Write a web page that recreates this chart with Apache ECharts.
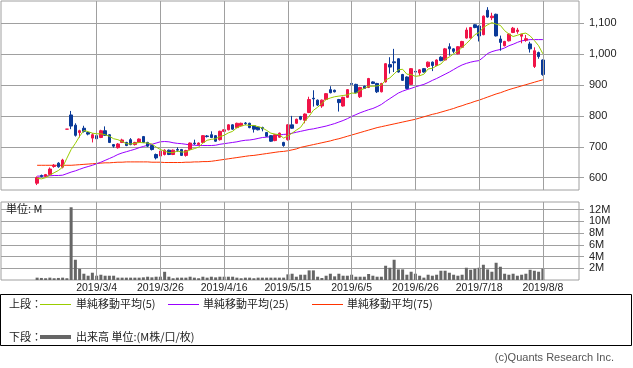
<!DOCTYPE html>
<html><head><meta charset="utf-8">
<script src="https://cdn.jsdelivr.net/npm/echarts@6/dist/echarts.min.js"></script>
<style>html,body{margin:0;padding:0;background:#fff}#c{width:633px;height:368px}</style>
</head><body><div id="c"></div>
<script>
// ---------- data ----------
const firstDate = '2019/2/12';
const holidays = ['2019/3/21','2019/4/29','2019/4/30','2019/5/1','2019/5/2','2019/5/3','2019/5/6','2019/7/15'];
const dateTicks = ['2019/3/4','2019/3/26','2019/4/16','2019/5/15','2019/6/5','2019/6/26','2019/7/18','2019/8/8'];
const priceTicks = [600,700,800,900,1000,1100];
const volTicks = [2,4,6,8,10,12];

const opens = [582,607,604,610,636,647,634,757,803,770,746,760,746,728,736,730,752,739,707,697,
714,714,723,707,714,733,714,704,675,670,675,689,675,691,691,672,691,712,707,714,
735,739,736,723,750,755,771,762,768,777,776,768,764,762,746,736,720,731,714,723,
771,776,798,786,811,857,851,832,853,885,883,853,832,860,905,902,862,896,892,910,
905,878,910,966,975,985,934,926,902,944,939,953,960,974,963,990,981,1024,1017,1001,
1022,1052,1052,1095,1091,1063,1142,1118,1129,1049,1027,1043,1070,1073,1058,1045,1033,960,1005,981];
const highs = [604,610,612,633,644,650,661,757,816,776,755,768,750,744,738,755,766,741,709,712,
726,716,728,716,727,735,716,706,678,688,692,691,691,698,693,690,714,723,714,738,
738,750,738,752,757,773,773,778,778,780,778,770,766,765,748,738,741,746,716,773,
800,791,800,808,862,883,853,853,874,896,885,855,862,887,910,904,894,898,923,912,
907,907,971,990,1017,987,936,928,955,963,951,955,976,976,983,993,1020,1035,1019,1026,
1043,1086,1088,1097,1093,1125,1152,1134,1131,1060,1043,1067,1088,1085,1066,1062,1040,1022,1008,983];
const lows = [576,601,602,607,632,632,630,757,757,733,730,746,737,714,722,728,735,712,697,694,
712,702,705,704,712,712,699,688,659,668,672,673,673,684,670,668,689,706,705,712,
730,728,716,720,748,753,755,760,766,770,760,746,753,750,732,716,718,729,700,720,
758,774,786,776,809,830,832,826,851,873,876,814,830,858,892,873,858,887,890,903,
874,876,908,937,942,940,913,886,900,924,930,940,955,945,961,977,979,995,1003,999,
1020,1050,1050,1084,1041,1061,1118,1110,1057,1011,1025,1041,1068,1066,1035,1040,1005,955,985,930];
const closes = [600,604,610,628,640,635,657,757,767,737,752,750,741,739,726,752,737,714,702,709,
722,704,707,714,725,714,702,691,664,686,689,675,689,689,672,688,712,710,712,736,
733,730,718,750,755,771,757,776,776,775,762,757,755,758,734,718,739,744,704,771,
760,789,789,806,853,855,835,851,872,875,878,843,860,885,902,875,892,889,921,905,
878,905,969,958,972,942,915,889,953,942,949,942,974,963,981,979,1017,1017,1009,1024,
1041,1078,1086,1086,1059,1123,1120,1123,1059,1038,1041,1065,1084,1078,1064,1050,1017,1011,992,934];
const volumes = [0.4,0.35,0.3,0.4,0.3,0.35,0.4,0.3,12.4,3.45,1.9,1.07,0.73,1.24,0.73,0.9,0.73,0.73,0.73,0.4,
0.4,0.4,0.4,0.4,0.4,0.45,0.56,0.45,0.56,0.56,1.4,0.56,0.3,0.4,0.4,0.4,0.56,0.4,0.3,0.56,
0.4,0.56,0.45,0.56,0.56,0.56,0.56,0.4,0.3,0.4,0.4,0.3,0.4,0.4,0.4,0.4,0.4,0.4,0.4,
0.96,1.07,0.56,0.9,0.9,1.64,1.64,0.56,0.34,0.73,1.07,0.62,1.07,0.73,0.73,0.9,0.56,0.56,0.56,1.02,0.73,
0.56,0.56,2.43,2.09,3.45,1.81,1.81,0.9,1.41,1.07,0.73,0.4,0.9,0.73,0.9,1.58,1.58,1.24,0.9,0.73,
0.9,2.09,1.75,1.92,2.09,2.6,1.81,1.41,2.94,2.26,1.07,0.9,1.07,0.73,0.9,1.07,1.75,1.58,1.41,1.92];
const ma5 = [598,596,600,608,616,623,634,663,691,711,734,753,749,744,742,742,739,734,726,723,
717,710,709,711,714,713,712,709,699,691,686,681,681,686,683,683,690,694,699,712,
721,724,726,733,737,745,750,762,767,771,769,769,765,761,753,744,741,739,728,735,
744,754,763,783,799,818,828,840,853,858,862,864,866,868,874,873,883,889,896,896,
897,900,916,923,936,949,951,935,934,928,930,935,952,954,962,968,983,991,1001,1009,
1022,1034,1048,1063,1070,1086,1095,1102,1097,1093,1076,1065,1057,1061,1066,1068,1059,1044,1027,1001];
const ma25 = [605,605,606,606,607,607,608,
613,618,622,627,632,636,640,645,650,656,662,668,675,680,
684,688,692,697,701,705,708,712,716,717,
716,713,711,710,708,706,705,704,704,704,704,705,
708,710,712,714,716,719,721,722,724,727,730,
731,733,735,738,740,741,744,747,750,753,
756,758,761,764,767,771,775,780,785,791,798,
804,810,815,820,824,830,837,847,856,865,874,
880,885,889,894,898,902,908,915,921,928,935,
942,950,958,965,970,974,977,979,990,1002,1008,
1012,1015,1020,1027,1032,1038,1043,1045,1047,1047,1047,1047];
const ma75 = [640,640,640,640,640,640,640,640,640,
641,642,643,644,645,646,647,648,648,649,650,650,
651,651,651,651,651,651,650,650,650,649,649,649,649,649,
650,650,651,651,652,652,
653,655,657,659,661,663,665,667,669,671,672,674,676,678,680,682,684,685,687,
690,693,698,701,704,707,710,713,716,719,723,726,730,734,738,
742,746,750,754,758,762,765,768,771,774,777,780,783,786,789,
793,797,801,805,808,812,816,820,824,829,833,838,842,847,851,
856,861,866,871,875,880,885,889,893,897,901,905,909,913,917];

// ---------- build ----------
function fmt(d){return d.getFullYear()+'/'+(d.getMonth()+1)+'/'+d.getDate();}
function tradingDays(start, n){
  const p = start.split('/').map(Number);
  const d = new Date(p[0], p[1]-1, p[2]);
  const out = [];
  while(out.length < n){
    const s = fmt(d), w = d.getDay();
    if(w !== 0 && w !== 6 && holidays.indexOf(s) < 0) out.push(s);
    d.setDate(d.getDate()+1);
  }
  return out;
}
const N = closes.length;
const dates = tradingDays(firstDate, N);
const PADL = 8, PADR = 8;
const cats = [];
for(let i=0;i<PADL;i++) cats.push('pre'+i);
dates.forEach(d=>cats.push(d));
for(let i=0;i<PADR;i++) cats.push('post'+i);
const padL = Array(PADL).fill('-'), padR = Array(PADR).fill('-');
const wrap = arr => padL.concat(arr, padR);
const candleData = wrap(dates.map((d,i)=>[opens[i],closes[i],lows[i],highs[i]]));

const RED='#f01448', BLUE='#0a3a98', GRID='#a0a0a0';
const JP = "'Liberation Sans','Noto Sans CJK JP',sans-serif";
const vGrid = dateTicks.map(d=>({xAxis:d}));
const gridMark = {silent:true, symbol:['none','none'], label:{show:false},
  lineStyle:{color:GRID, type:'solid', width:1}, data:vGrid, animation:false};

const chart = echarts.init(document.getElementById('c'), null, {renderer:'canvas'});
chart.setOption({
  animation:false,
  backgroundColor:'#fff',
  grid:[
    {left:1, top:1, right:54, height:189, show:true, borderColor:GRID, borderWidth:1},
    {left:1, top:202, right:54, height:78, show:true, borderColor:GRID, borderWidth:1}
  ],
  xAxis:[
    {type:'category', gridIndex:0, data:cats, boundaryGap:true,
     axisLine:{show:false}, axisTick:{show:false}, axisLabel:{show:false}, splitLine:{show:false}},
    {type:'category', gridIndex:1, data:cats, boundaryGap:true,
     axisLine:{show:false}, axisTick:{show:false}, splitLine:{show:false},
     axisLabel:{show:true, interval:(idx,val)=>dateTicks.indexOf(val)>=0, fontSize:10.5,
       color:'#222', margin:3, fontFamily:JP, hideOverlap:false}}
  ],
  yAxis:[
    {type:'value', gridIndex:0, position:'right', min:560, max:1172, scale:true,
     axisLine:{show:false},
     axisTick:{show:true, customValues:priceTicks, length:5, lineStyle:{color:GRID}},
     axisLabel:{customValues:priceTicks, formatter:v=>v.toLocaleString('en-US'), fontSize:11,
       color:'#222', margin:10, fontFamily:JP},
     splitLine:{show:true, lineStyle:{color:GRID, width:1}}},
    {type:'value', gridIndex:1, position:'right', min:0, max:13.3,
     axisLine:{show:false},
     axisTick:{show:true, customValues:volTicks, length:5, lineStyle:{color:GRID}},
     axisLabel:{customValues:volTicks, formatter:v=>v+'M', fontSize:11, color:'#222', margin:10, fontFamily:JP},
     splitLine:{show:true, lineStyle:{color:GRID, width:1}}}
  ],
  series:[
    {type:'line', xAxisIndex:0, yAxisIndex:0, data:[], z:1, markLine:gridMark},
    {type:'line', xAxisIndex:1, yAxisIndex:1, data:[], z:1, markLine:gridMark},
    {type:'line', xAxisIndex:0, yAxisIndex:0, data:wrap(ma75), showSymbol:false, z:3,
     lineStyle:{color:'#ff3300', width:1}, itemStyle:{color:'#ff3300'}},
    {type:'line', xAxisIndex:0, yAxisIndex:0, data:wrap(ma25), showSymbol:false, z:3,
     lineStyle:{color:'#9900ff', width:1}, itemStyle:{color:'#9900ff'}},
    {type:'candlestick', xAxisIndex:0, yAxisIndex:0, data:candleData, barWidth:3, z:4,
     itemStyle:{color:RED, color0:BLUE, borderColor:RED, borderColor0:BLUE, borderWidth:1}},
    {type:'line', xAxisIndex:0, yAxisIndex:0, data:wrap(ma5), showSymbol:false, z:5,
     lineStyle:{color:'#99cc00', width:1}, itemStyle:{color:'#99cc00'}},
    {type:'bar', xAxisIndex:1, yAxisIndex:1, data:wrap(volumes), barWidth:3, z:4,
     itemStyle:{color:'#666666'}}
  ],
  graphic:[
    {type:'text', left:6, top:203, z:10, style:{text:'単位: M', font:"11px 'Noto Sans CJK JP'", fill:'#222'}},
    {type:'rect', z:10, shape:{x:0.5, y:294.5, width:631, height:51}, style:{fill:'none', stroke:'#000', lineWidth:1}},
    {type:'text', z:10, x:9, y:304, style:{text:'上段：', font:"11px 'Noto Sans CJK JP'", fill:'#222', textVerticalAlign:'middle'}},
    {type:'line', z:10, shape:{x1:40, y1:304.5, x2:71, y2:304.5}, style:{stroke:'#99cc00', lineWidth:1}},
    {type:'text', z:10, x:76, y:304, style:{text:'単純移動平均(5)', font:"11px 'Noto Sans CJK JP'", fill:'#222', textVerticalAlign:'middle'}},
    {type:'line', z:10, shape:{x1:168, y1:304.5, x2:199, y2:304.5}, style:{stroke:'#9900ff', lineWidth:1}},
    {type:'text', z:10, x:203, y:304, style:{text:'単純移動平均(25)', font:"11px 'Noto Sans CJK JP'", fill:'#222', textVerticalAlign:'middle'}},
    {type:'line', z:10, shape:{x1:312, y1:304.5, x2:343, y2:304.5}, style:{stroke:'#ff3300', lineWidth:1}},
    {type:'text', z:10, x:347, y:304, style:{text:'単純移動平均(75)', font:"11px 'Noto Sans CJK JP'", fill:'#222', textVerticalAlign:'middle'}},
    {type:'text', z:10, x:9, y:337, style:{text:'下段：', font:"11px 'Noto Sans CJK JP'", fill:'#222', textVerticalAlign:'middle'}},
    {type:'line', z:10, shape:{x1:40, y1:337, x2:71, y2:337}, style:{stroke:'#666666', lineWidth:4}},
    {type:'text', z:10, x:76, y:337, style:{text:'出来高 単位:(M株/口/枚)', font:"11px 'Noto Sans CJK JP'", fill:'#222', textVerticalAlign:'middle'}},
    {type:'text', z:10, x:614, y:358, style:{text:'(c)Quants Research Inc.', font:"11px 'Liberation Sans'", fill:'#555', textAlign:'right', textVerticalAlign:'middle'}}
  ]
});
</script></body></html>
